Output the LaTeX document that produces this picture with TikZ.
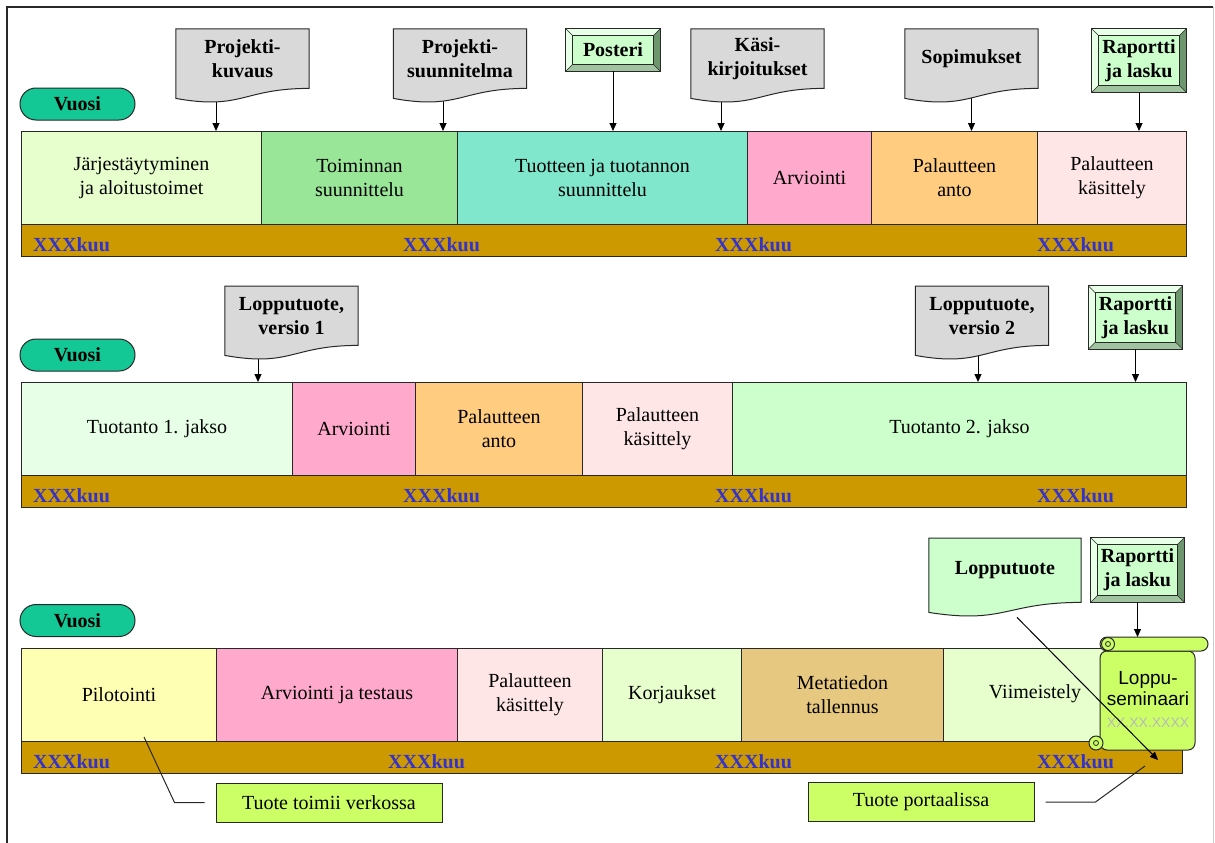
\documentclass[tikz,border=0pt]{standalone}
\usepackage{fontspec}
\setmainfont{Liberation Serif}
\setsansfont{Liberation Sans}
\usepackage{xcolor}
\definecolor{colVuosi}{RGB}{20,200,150}
\definecolor{colStrip}{RGB}{204,153,0}
\definecolor{colKuu}{RGB}{51,51,204}
\definecolor{colDoc}{RGB}{217,217,217}
\definecolor{colLime}{RGB}{204,255,102}
\definecolor{colMint}{RGB}{204,255,204}
\definecolor{colBevD}{RGB}{110,150,110}
\definecolor{colBevM}{RGB}{160,195,160}
\definecolor{colBevL}{RGB}{232,255,232}
\definecolor{colJarj}{RGB}{230,255,204}
\definecolor{colToim}{RGB}{153,230,153}
\definecolor{colTuot}{RGB}{128,230,204}
\definecolor{colArv}{RGB}{255,170,204}
\definecolor{colAnto}{RGB}{255,204,128}
\definecolor{colKas}{RGB}{255,230,230}
\definecolor{colTuo1}{RGB}{230,255,230}
\definecolor{colPil}{RGB}{255,255,179}
\definecolor{colMeta}{RGB}{230,200,128}
\definecolor{colLine}{RGB}{40,40,40}
\usepackage{tikz}
\usetikzlibrary{arrows.meta, positioning, calc, backgrounds}

% document shape: rectangle with a wavy bottom, drawn round a named node
\newcommand{\docwave}[2][colDoc]{%
	\filldraw[fill=#1, draw=colLine, line width=1pt]
		(#2.north west) -- (#2.north east) -- (#2.south east)
		.. controls (#2.south) and ($(#2.south)+(0,22)$) .. ($(#2.south west)+(0,10)$) -- cycle;}
% bevelled button round a named node
\newcommand{\bevelbox}[1]{%
	\fill[colBevL] (#1.north west) rectangle (#1.south east);
	\fill[colBevD] (#1.north east) -- (#1.south east) -- ([shift={(-7,-7)}]#1.south east)
		-- ([shift={(-7,7)}]#1.north east) -- cycle;
	\fill[colBevM] (#1.south west) -- (#1.south east) -- ([shift={(-7,-7)}]#1.south east)
		-- ([shift={(7,-7)}]#1.south west) -- cycle;
	\draw[colLine, line width=0.5pt] (#1.north west) -- ([shift={(7,7)}]#1.north west)
		(#1.north east) -- ([shift={(-7,7)}]#1.north east)
		(#1.south west) -- ([shift={(7,-7)}]#1.south west)
		(#1.south east) -- ([shift={(-7,-7)}]#1.south east);
	\filldraw[fill=colMint, draw=colLine, line width=0.8pt]
		([shift={(7,7)}]#1.north west) rectangle ([shift={(-7,-7)}]#1.south east);
	\draw[colLine, line width=1pt] (#1.north west) rectangle (#1.south east);}

\begin{document}
\begin{tikzpicture}[x=1pt, y=-1pt,
		stage/.style={draw=colLine, line width=1pt, anchor=north west, inner sep=0pt,
			minimum height=93pt, align=center, font=\fontsize{20}{24}\selectfont},
		strip/.style={draw=colLine, line width=1pt, fill=colStrip, anchor=north west,
			minimum width=1165pt, minimum height=32pt, inner sep=0pt},
		kuu/.style={anchor=base west, text=colKuu, inner sep=0pt,
			font=\bfseries\fontsize{20}{24}\selectfont},
		vuosi/.style={draw=colLine, line width=1pt, fill=colVuosi, rounded corners=16pt,
			minimum width=115pt, minimum height=32pt, inner sep=0pt,
			font=\bfseries\fontsize{20}{24}\selectfont},
		doc/.style={anchor=north, minimum width=133pt, minimum height=59pt, inner sep=0pt,
			align=center, font=\bfseries\fontsize{20}{24}\selectfont},
		bevel/.style={minimum width=94pt, minimum height=63pt, inner sep=0pt,
			align=center, font=\bfseries\fontsize{20}{24}\selectfont},
		note/.style={draw=colLine, line width=1pt, fill=colLime, minimum width=226pt,
			minimum height=39pt, font=\fontsize{20}{24}\selectfont},
		scroll/.style={fill=colLime, draw=colLine, line width=1pt},
		arr/.style={-{Triangle[length=8pt,width=7pt]}, line width=1pt, draw=black},
		call/.style={line width=1pt, draw=colLine}
	]
	\useasboundingbox (0,0) rectangle (1215,843);

	% ===== Row 1 =====
	\node[vuosi] (v1) at (77.5,104) {Vuosi};
	\node[stage, fill=colJarj, minimum width=240pt] (j1)  at (21,131)  {Järjestäytyminen\\ja aloitustoimet};
	\node[stage, fill=colToim, minimum width=196pt] (to1) at (261,131) {Toiminnan\\suunnittelu};
	\node[stage, fill=colTuot, minimum width=290pt] (tt1) at (457,131) {Tuotteen ja tuotannon\\suunnittelu};
	\node[stage, fill=colArv,  minimum width=124pt] (ar1) at (747,131) {Arviointi};
	\node[stage, fill=colAnto, minimum width=166pt] (an1) at (871,131) {Palautteen\\anto};
	\node[stage, fill=colKas,  minimum width=149pt] (ka1) at (1037,131) {Palautteen\\käsittely};
	\node[strip] (s1) at (21,224) {};
	\foreach \x [count=\i] in {33,403,715,1037}
		\node[kuu] (k1\i) at (\x,251) {XXXkuu};

	\node[doc] (pk)  at (242.5,29) {Projekti-\\kuvaus};
	\node[doc] (ps)  at (460,29)   {Projekti-\\suunnitelma};
	\node[doc] (kk)  at (757.5,29) {Käsi-\\kirjoitukset};
	\node[doc] (sop) at (971.5,29) {Sopimukset};
	\node[bevel, minimum height=42pt] (pos) at (613,50) {Posteri};
	\node[bevel] (rap1) at (1139,60.5) {Raportti\\ja lasku};

	% ===== Row 2 =====
	\node[vuosi] (v2) at (77.5,355) {Vuosi};
	\node[stage, fill=colTuo1, minimum width=271pt] (tu1) at (21,382)  {Tuotanto 1. jakso};
	\node[stage, fill=colArv,  minimum width=123pt] (ar2) at (292,382) {Arviointi};
	\node[stage, fill=colAnto, minimum width=167pt] (an2) at (415,382) {Palautteen\\anto};
	\node[stage, fill=colKas,  minimum width=150pt] (ka2) at (582,382) {Palautteen\\käsittely};
	\node[stage, fill=colMint, minimum width=454pt] (tu2) at (732,382) {Tuotanto 2. jakso};
	\node[strip] (s2) at (21,475) {};
	\foreach \x [count=\i] in {33,403,715,1037}
		\node[kuu] (k2\i) at (\x,502) {XXXkuu};

	\node[doc] (lt1) at (291.5,286) {Lopputuote,\\versio 1};
	\node[doc] (lt2) at (982,286)   {Lopputuote,\\versio 2};
	\node[bevel] (rap2) at (1135.5,317.5) {Raportti\\ja lasku};

	% ===== Row 3 =====
	\node[vuosi] (v3) at (77.5,620.5) {Vuosi};
	\node[stage, fill=colPil,  minimum width=195pt] (pi3) at (21,648)  {Pilotointi};
	\node[stage, fill=colArv,  minimum width=241pt] (ar3) at (216,648) {Arviointi ja testaus};
	\node[stage, fill=colKas,  minimum width=145pt] (ka3) at (457,648) {Palautteen\\käsittely};
	\node[stage, fill=colJarj, minimum width=139pt] (ko3) at (602,648) {Korjaukset};
	\node[stage, fill=colMeta, minimum width=202pt] (me3) at (741,648) {Metatiedon\\tallennus};
	\node[stage, fill=colJarj, minimum width=239pt] (vi3) at (943,648) {};
	\node[font=\fontsize{20}{24}\selectfont] (vit) at (1035,694) {Viimeistely};
	\node[strip, minimum width=1161pt] (s3) at (21,741) {};
	\foreach \x [count=\i] in {33,388,715,1037}
		\node[kuu] (k3\i) at (\x,768) {XXXkuu};

	\node[doc, minimum width=152pt, minimum height=64pt] (lt3) at (1005,538) {Lopputuote};
	\node[bevel, minimum width=93pt, minimum height=64pt] (rap3) at (1137.5,570) {Raportti\\ja lasku};

	% the seminar scroll
	\filldraw[scroll, rounded corners=7pt] (1100,651) -- (1195,651) -- (1195,750) -- (1100,750) -- cycle;
	\filldraw[scroll, rounded corners=7pt] (1100,637) rectangle (1208,651);
	\filldraw[scroll] (1108,644) circle (6.5pt);
	\draw[colLine, line width=0.8pt] (1108,644) circle (2.5pt);
	\filldraw[scroll] (1096,743) circle (7pt);
	\draw[colLine, line width=0.8pt] (1096,743) circle (2.5pt);
	\node[align=center, font=\sffamily\fontsize{19}{21.5}\selectfont] (sem) at (1148,699)
		{Loppu-\\seminaari\\{\color{gray!55}\fontsize{14}{21.5}\selectfont XX.XX.XXXX}};
	\coordinate (semtop) at (1140,637);

	% ===== Notes =====
	\node[note] (ttv) at (329,802.5) {Tuote toimii verkossa};
	\node[note] (tp)  at (921,802)   {Tuote portaalissa};
	\coordinate (ttvend) at (144,737);
	\coordinate (tpend)  at (1145,766);
	\coordinate (portal) at (1158,760);
	\draw[call] ([xshift=-11pt]ttv.west) -- ++(-30,0) -- (ttvend);
	\draw[call] ([xshift=11pt]tp.east) -- ++(50,0) -- (tpend);

	% ===== Arrows =====
	\draw[arr] (pos.south)  -- (pos.south |- tt1.north);
	\draw[arr] (rap1.south) -- (rap1.south |- ka1.north);
	\draw[arr] (rap2.south) -- (rap2.south |- tu2.north);
	\draw[arr] (rap3.south) -- (rap3.south |- semtop);
	\draw[arr] ([shift={(12,15)}]lt3.south) -- (portal);

	% frame
	\draw[line width=1.2pt, colLine] (7,843) -- (7,7) -- (1213,7);
	\draw[gray!40] (1213,7) -- (1213,843);

	\begin{scope}[on background layer]
		\fill[white] (0,0) rectangle (1215,843);
		% doc arrows first, so the waves hide their tails
		\draw[arr] ([xshift=-26.5pt]pk.south) -- ([xshift=-26.5pt]pk.south |- j1.north);
		\draw[arr] ([xshift=-17pt]ps.south)   -- ([xshift=-17pt]ps.south |- to1.north);
		\draw[arr] ([xshift=-36.5pt]kk.south) -- ([xshift=-36.5pt]kk.south |- tt1.north);
		\draw[arr] (sop.south) -- (sop.south |- an1.north);
		\draw[arr] ([xshift=-33.5pt]lt1.south) -- ([xshift=-33.5pt]lt1.south |- tu1.north);
		\draw[arr] ([xshift=-4pt]lt2.south)    -- ([xshift=-4pt]lt2.south |- tu2.north);
		\foreach \n in {pk,ps,kk,sop,lt1,lt2} {\docwave{\n}}
		\docwave[colMint]{lt3}
		\foreach \n in {pos,rap1,rap2,rap3} {\bevelbox{\n}}
	\end{scope}
\end{tikzpicture}
\end{document}
